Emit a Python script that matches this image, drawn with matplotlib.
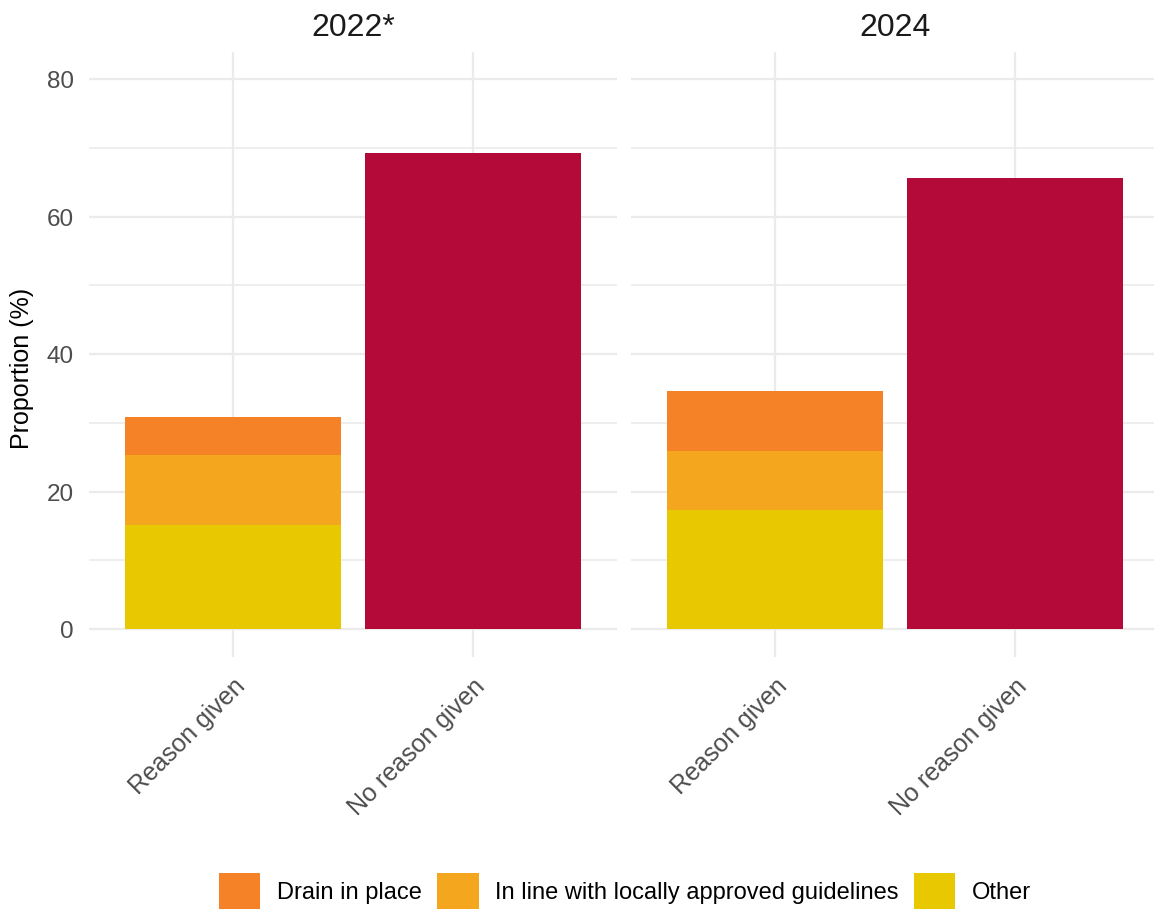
import matplotlib
matplotlib.use("Agg")
import matplotlib.pyplot as plt
from matplotlib.patches import Patch
import numpy as np

plt.rcParams['font.family'] = ['Liberation Sans', 'DejaVu Sans']

years = ["2022*", "2024"]
categories = ["Reason given", "No reason given"]
other = [15.2, 17.3]
guidelines = [10.1, 8.6]
drain = [5.6, 8.7]
no_reason = [69.2, 65.6]

c_drain = "#F58226"
c_guide = "#F4A71E"
c_other = "#E8C800"
c_none = "#B40A3A"
grid_c = "#EBEBEB"
tick_c = "#4D4D4D"

W, H = 1154, 912
fig = plt.figure(figsize=(W / 100, H / 100), dpi=100)

pan_w = 528 / W
bottom = 1 - 657.5 / H
height = (657.5 - 52.5) / H
lefts = [89 / W, 631 / W]

axes = []
for i, yr in enumerate(years):
    ax = fig.add_axes([lefts[i], bottom, pan_w, height])
    axes.append(ax)
    x = np.arange(1, 3)
    ax.bar(x[0], other[i], width=0.9, color=c_other, zorder=3)
    ax.bar(x[0], guidelines[i], width=0.9, bottom=other[i], color=c_guide, zorder=3)
    ax.bar(x[0], drain[i], width=0.9, bottom=other[i] + guidelines[i], color=c_drain, zorder=3)
    ax.bar(x[1], no_reason[i], width=0.9, color=c_none, zorder=3)
    ax.set_xlim(0.4, 2.6)
    ax.set_ylim(-4, 84)
    ax.set_yticks([0, 20, 40, 60, 80])
    ax.set_yticks([10, 30, 50, 70], minor=True)
    ax.set_xticks(x)
    ax.set_xticklabels(categories, rotation=45, ha='right', va='top',
                       rotation_mode='anchor', fontsize=18, color=tick_c)
    ax.grid(which='major', axis='both', color=grid_c, linewidth=1.6, zorder=0)
    ax.grid(which='minor', axis='y', color=grid_c, linewidth=1.2, zorder=0)
    ax.set_axisbelow(True)
    for s in ax.spines.values():
        s.set_visible(False)
    ax.tick_params(which='both', length=0)
    ax.tick_params(axis='x', pad=12)
    ax.tick_params(axis='y', pad=11, labelsize=17.5, labelcolor=tick_c)
    ax.set_title(yr, fontsize=23, color="#1A1A1A", pad=12)
    if i == 1:
        ax.set_yticklabels([])

axes[0].set_ylabel("Proportion (%)", fontsize=18, color="black")
axes[0].yaxis.set_label_coords(-(89 - 34) / 528, 0.5 - 13 / 605)

handles = [Patch(facecolor=c_drain, label="Drain in place"),
           Patch(facecolor=c_guide, label="In line with locally approved guidelines"),
           Patch(facecolor=c_other, label="Other")]
fig.legend(handles=handles, loc='center', bbox_to_anchor=(625 / W, 1 - 892 / H),
           ncol=3, frameon=False, fontsize=17, handlelength=1.75, handleheight=2.0,
           handletextpad=0.7, columnspacing=0.65)

fig.savefig("out.png", dpi=100)
